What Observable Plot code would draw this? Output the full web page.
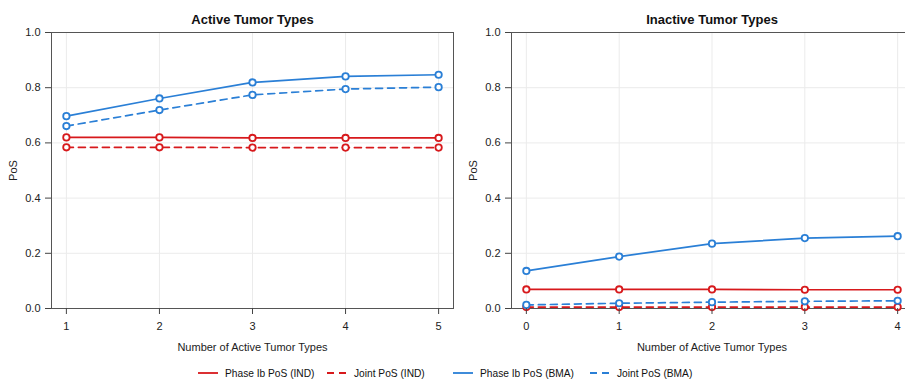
<!DOCTYPE html>
<html><head><meta charset="utf-8">
<script src="https://cdn.jsdelivr.net/npm/d3@7"></script>
<script src="https://cdn.jsdelivr.net/npm/@observablehq/plot@0.6"></script>
<style>
html,body{margin:0;padding:0;background:#fff;overflow:hidden;width:905px;height:383px}
#wrap{position:relative;width:905px;height:383px;overflow:hidden;font-family:"Liberation Sans",Arial,sans-serif;color:#111}
#left{position:absolute;left:0;top:0;width:460px}
#right{position:absolute;left:460px;top:0;width:455px}
#wrap svg{max-width:none !important}
.leg{position:absolute;top:366px;height:14px;display:flex;align-items:center;font-size:10.2px;white-space:nowrap}
.leg svg{margin-right:7px}
</style>
</head><body>
<div id="wrap"><div id="left"></div><div id="right"></div><div id="legend"></div></div>
<script>
const seriesNames = ["Phase Ib PoS (IND)", "Joint PoS (IND)", "Phase Ib PoS (BMA)", "Joint PoS (BMA)"];
const seriesColors = ["#d7191c", "#d7191c", "#2a7fd6", "#2a7fd6"];
const seriesDash = [null, "7,5", null, "7,5"];

const activeX = [1, 2, 3, 4, 5];
const activeIbIND = [0.620, 0.620, 0.618, 0.618, 0.618];
const activeJointIND = [0.584, 0.584, 0.583, 0.583, 0.583];
const activeIbBMA = [0.697, 0.761, 0.819, 0.841, 0.847];
const activeJointBMA = [0.661, 0.719, 0.774, 0.795, 0.802];

const inactiveX = [0, 1, 2, 3, 4];
const inactiveIbIND = [0.069, 0.069, 0.069, 0.068, 0.068];
const inactiveJointIND = [0.005, 0.005, 0.005, 0.005, 0.005];
const inactiveIbBMA = [0.136, 0.188, 0.235, 0.255, 0.262];
const inactiveJointBMA = [0.013, 0.019, 0.023, 0.026, 0.028];

const yTicks = [0, 0.2, 0.4, 0.6, 0.8, 1.0];

function rows(xs, arrs) {
  const out = [];
  arrs.forEach((a, i) => a.forEach((v, j) => out.push({x: xs[j], y: v, series: seriesNames[i]})));
  return out;
}

function panel(title, xs, arrs, width, marginRight) {
  const data = rows(xs, arrs);
  const lo = xs[0] - 0.16, hi = xs[xs.length - 1] + 0.16;
  const marks = [
    Plot.gridX(xs, {stroke: "#ebebeb", strokeOpacity: 1}),
    Plot.gridY(yTicks, {stroke: "#ebebeb", strokeOpacity: 1}),
    Plot.frame({stroke: "#555"}),
  ];
  seriesNames.forEach((s, i) => {
    marks.push(Plot.line(data.filter(d => d.series === s), {
      x: "x", y: "y", stroke: seriesColors[i], strokeWidth: 1.7,
      strokeDasharray: seriesDash[i] || undefined
    }));
  });
  marks.push(Plot.dot(data, {x: "x", y: "y", stroke: "series", fill: "white", r: 3.2, strokeWidth: 1.8}));
  marks.push(Plot.axisX(xs, {tickSize: 6, tickPadding: 8, fontSize: 11, stroke: "#444", fill: "#222",
    label: "Number of Active Tumor Types", labelAnchor: "center", labelOffset: 42, labelArrow: "none"}));
  marks.push(Plot.axisY(yTicks, {tickSize: 6, tickPadding: 5, fontSize: 11, stroke: "#444", fill: "#222",
    tickFormat: d3.format(".1f"),
    label: "PoS", labelAnchor: "center", labelOffset: 42, labelArrow: "none"}));
  marks.push(Plot.text([title], {frameAnchor: "top", dy: -18, fontWeight: "bold", fontSize: 13, fill: "#111"}));
  return Plot.plot({
    width, height: 358,
    marginLeft: 51, marginRight, marginTop: 32, marginBottom: 50,
    style: {fontFamily: "'Liberation Sans', Arial, sans-serif", background: "white", overflow: "visible", maxWidth: "none"},
    x: {domain: [lo, hi]},
    y: {domain: [0, 1]},
    color: {domain: seriesNames, range: seriesColors},
    marks
  });
}

document.getElementById("left").append(panel("Active Tumor Types", activeX,
  [activeIbIND, activeJointIND, activeIbBMA, activeJointBMA], 460, 7));
document.getElementById("right").append(panel("Inactive Tumor Types", inactiveX,
  [inactiveIbIND, inactiveJointIND, inactiveIbBMA, inactiveJointBMA], 455, 3));

const legendLeft = [198, 327, 453, 590];
const legend = document.getElementById("legend");
seriesNames.forEach((s, i) => {
  const div = document.createElement("div");
  div.className = "leg";
  div.style.left = legendLeft[i] + "px";
  const dash = seriesDash[i] ? `stroke-dasharray="7,5"` : "";
  div.innerHTML = `<svg width="20" height="4"><line x1="0" y1="2" x2="20" y2="2" stroke="${seriesColors[i]}" stroke-width="1.8" ${dash}/></svg><span>${s}</span>`;
  legend.append(div);
});
</script>
</body></html>
